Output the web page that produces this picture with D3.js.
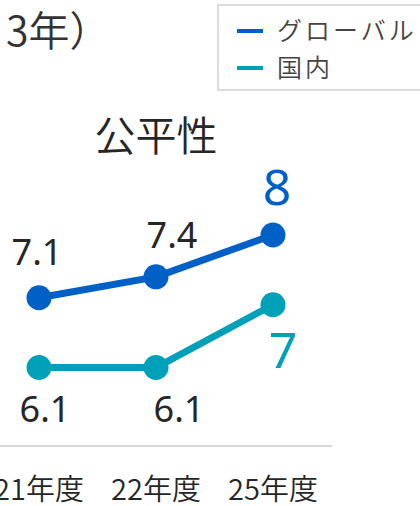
<!DOCTYPE html>
<html>
<head>
<meta charset="utf-8">
<script src="https://cdn.jsdelivr.net/npm/d3@7"></script>
<style>
  body { margin: 0; background: #fff; }
  svg { display: block; }
</style>
</head>
<body>
<div id="chart"></div>
<script>
  // data
  var years = ["21年度", "22年度", "25年度"];
  var globalVals = [7.1, 7.4, 8];
  var domesticVals = [6.1, 6.1, 7];
  var seriesNames = ["グローバル", "国内"];
  var chartTitle = "公平性";
  var headText = "3年）";

  var W = 420, H = 506;
  var blue = "#0060c6", teal = "#00a0b8";
  var cjk = "'Noto Sans CJK JP', sans-serif";

  var svg = d3.select("#chart").append("svg")
    .attr("width", W).attr("height", H);

  var x = d3.scalePoint().domain(years).range([39, 273]);
  var y = d3.scaleLinear().domain([6, 8]).range([374.5, 235]);

  // header fragment (cut off on the left)
  svg.append("text")
    .attr("x", 6).attr("y", 46)
    .style("font-family", cjk)
    .style("font-size", "41px")
    .style("font-weight", 350)
    .style("fill", "#333")
    .text(headText);

  // legend box
  svg.append("rect")
    .attr("x", 218).attr("y", 5).attr("width", 230).attr("height", 85)
    .style("fill", "#fff").style("stroke", "#dcdcdc").style("stroke-width", 2);

  var legend = svg.selectAll(".leg")
    .data(seriesNames)
    .enter().append("g")
    .attr("transform", function (d, i) { return "translate(237," + (31 + i * 37) + ")"; });
  legend.append("line")
    .attr("x1", 0).attr("x2", 26)
    .style("stroke", function (d, i) { return i === 0 ? blue : teal; })
    .style("stroke-width", 4);
  legend.append("text")
    .attr("x", 40).attr("y", 9)
    .style("font-family", cjk)
    .style("font-size", "25px")
    .style("font-weight", 350)
    .style("letter-spacing", "3px")
    .style("fill", "#444")
    .text(function (d) { return d; });

  // chart title
  svg.append("text")
    .attr("x", 156).attr("y", 151)
    .attr("text-anchor", "middle")
    .style("font-family", cjk)
    .style("font-size", "41px")
    .style("font-weight", 350)
    .style("fill", "#262626")
    .text(chartTitle);

  // base line
  svg.append("line")
    .attr("x1", 0).attr("x2", 332).attr("y1", 446).attr("y2", 446)
    .style("stroke", "#d9d9d9").style("stroke-width", 2);

  // x labels
  svg.selectAll(".xl")
    .data(years)
    .enter().append("text")
    .attr("x", function (d) { return x(d); })
    .attr("y", 500)
    .attr("text-anchor", "middle")
    .style("font-family", cjk)
    .style("font-size", "29px")
    .style("font-weight", 350)
    .style("fill", "#262626")
    .text(function (d) { return d; });

  var series = [
    { vals: globalVals, color: blue, dx: [-2, 16, 4], dy: [-33, -29, -30] },
    { vals: domesticVals, color: teal, dx: [6, 23, 10], dy: [54, 54, 63] }
  ];

  var line = d3.line()
    .x(function (d, i) { return x(years[i]); })
    .y(function (d) { return y(d); });

  series.forEach(function (s) {
    svg.append("path")
      .datum(s.vals)
      .attr("d", line)
      .style("fill", "none")
      .style("stroke", s.color)
      .style("stroke-width", 7);

    svg.selectAll(null)
      .data(s.vals)
      .enter().append("circle")
      .attr("cx", function (d, i) { return x(years[i]); })
      .attr("cy", function (d) { return y(d); })
      .attr("r", 12.5)
      .style("fill", s.color);

    // value labels; last one is the big coloured one
    svg.selectAll(null)
      .data(s.vals)
      .enter().append("text")
      .attr("x", function (d, i) { return x(years[i]) + s.dx[i]; })
      .attr("y", function (d, i) { return y(d) + s.dy[i]; })
      .attr("text-anchor", "middle")
      .style("font-family", "'Noto Sans', sans-serif")
      .style("font-size", function (d, i) { return i === 2 ? "50px" : "36px"; })
      .style("font-weight", 400)
      .style("fill", function (d, i) { return i === 2 ? s.color : "#262626"; })
      .text(function (d) { return d3.format(".1f")(d).replace(/\.0$/, ""); });
  });
</script>
</body>
</html>
